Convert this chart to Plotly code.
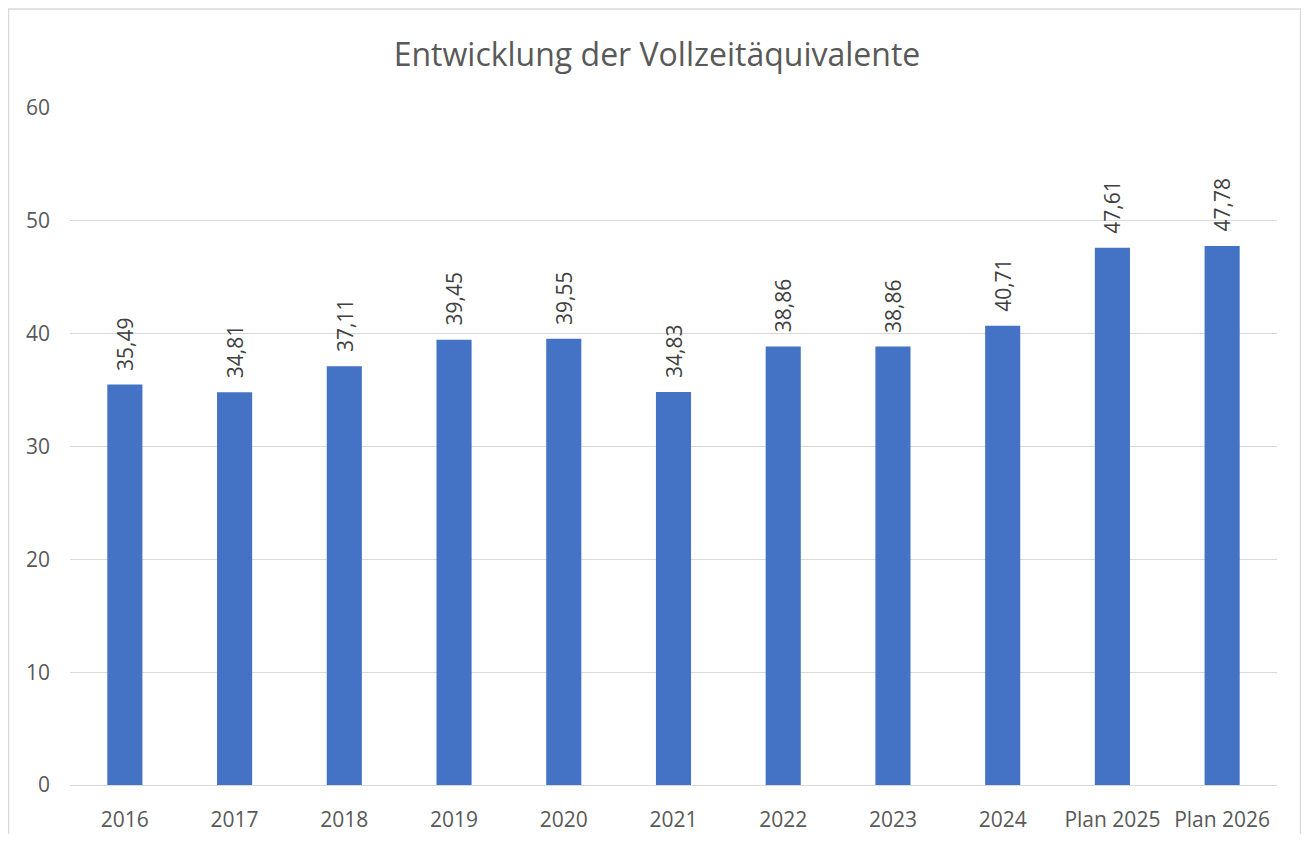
import plotly.graph_objects as go

categories = ["2016", "2017", "2018", "2019", "2020", "2021", "2022", "2023", "2024", "Plan 2025", "Plan 2026"]
values = [35.49, 34.81, 37.11, 39.45, 39.55, 34.83, 38.86, 38.86, 40.71, 47.61, 47.78]
y_ticks = [0, 10, 20, 30, 40, 50, 60]

FONT = "Open Sans, Lato, DejaVu Sans, sans-serif"

fig = go.Figure(
    go.Bar(
        x=categories,
        y=values,
        marker=dict(color="#4472C4", line=dict(width=0)),
        width=0.32,
        hoverinfo="x+y",
    )
)

# data labels, rotated, above each bar (category index used as x position)
annotations = [
    dict(
        x=i,
        y=v,
        xref="x",
        yref="y",
        text=f"{v:.2f}".replace(".", ","),
        textangle=-90,
        showarrow=False,
        xanchor="center",
        yanchor="bottom",
        yshift=12,
        font=dict(family=FONT, size=21, color="#404040"),
    )
    for i, v in enumerate(values)
]

# page has an 8px body margin, so figure coords = page coords - 8
W, H = 1293, 826
l, r, t, b = 62, 24, 100, 49
pw, ph = W - l - r, H - t - b

fig.update_layout(
    width=W,
    height=H,
    margin=dict(l=l, r=r, t=t, b=b, autoexpand=False),
    paper_bgcolor="white",
    plot_bgcolor="white",
    showlegend=False,
    annotations=annotations,
    title=dict(
        text="Entwicklung der Vollzeitäquivalente",
        x=(657 - 8) / W,
        xanchor="center",
        y=1 - 47 / H,
        yanchor="middle",
        font=dict(family=FONT, size=32, color="#595959"),
    ),
    xaxis=dict(
        type="category",
        categoryorder="array",
        categoryarray=categories,
        range=[-0.5, len(categories) - 0.5],
        automargin=False,
        showgrid=False,
        showline=True,
        linecolor="#D9D9D9",
        linewidth=1,
        ticks="",
        ticklabelstandoff=16,
        tickfont=dict(family=FONT, size=21, color="#595959"),
    ),
    yaxis=dict(
        range=[0, 60],
        tickvals=y_ticks,
        automargin=False,
        showgrid=True,
        gridcolor="#D9D9D9",
        gridwidth=1,
        zeroline=False,
        showline=False,
        ticks="",
        ticklabelstandoff=19,
        tickfont=dict(family=FONT, size=21, color="#595959"),
    ),
    shapes=[
        dict(
            type="rect",
            xref="paper",
            yref="paper",
            x0=(0.5 - l) / pw,
            x1=(W - 0.5 - l) / pw,
            y0=(H - b - 850) / ph,
            y1=(H - b - 1) / ph,
            line=dict(color="#D9D9D9", width=1.5),
            fillcolor="rgba(0,0,0,0)",
            layer="below",
        )
    ],
)

fig.write_html("out.html")
